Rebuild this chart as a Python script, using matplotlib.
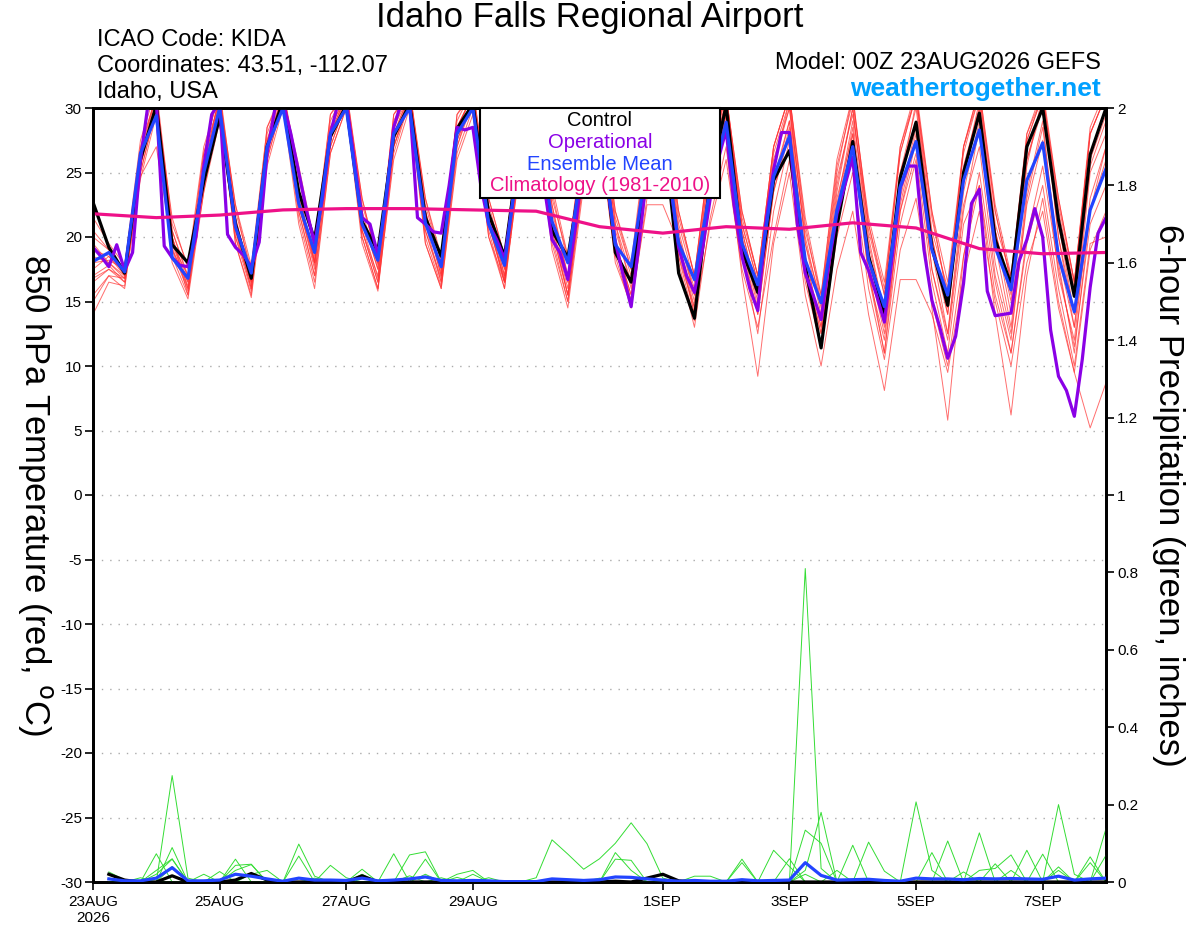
import numpy as np
import matplotlib
matplotlib.use('Agg')
import matplotlib.pyplot as plt
from matplotlib.patches import Rectangle
from matplotlib.ticker import FormatStrFormatter

plt.rcParams['font.family'] = ['Liberation Sans', 'DejaVu Sans']
plt.rcParams['axes.unicode_minus'] = False

# ---------------- data ----------------
hours6 = np.arange(0, 385, 6)      # temperature, 6-hourly
hours3 = np.arange(0, 385, 3)      # operational, 3-hourly
precip_hours = np.arange(6, 385, 6)

tick_days = [0, 2, 4, 6, 9, 11, 13, 15]
tick_labels = ['23AUG\n2026', '25AUG', '27AUG', '29AUG', '1SEP', '3SEP', '5SEP', '7SEP']

control_t = [22.7, 19.2, 17.2, 26.0, 30.2, 19.4, 18.0, 24.3,
             29.3, 21.0, 16.8, 27.0, 30.5, 23.5, 19.8, 27.8,
             30.2, 21.2, 18.9, 27.8, 30.3, 21.5, 18.5, 28.4,
             30.3, 21.8, 18.5, 27.5, 30.0, 20.5, 18.4, 26.0,
             29.5, 18.8, 16.5, 25.0, 29.0, 17.2, 13.7, 24.4,
             30.2, 19.0, 15.7, 24.4, 26.7, 17.7, 11.4, 20.8,
             27.4, 18.5, 14.1, 24.6, 28.9, 19.2, 14.7, 25.0,
             29.6, 19.8, 16.3, 27.0, 30.0, 21.3, 15.4, 26.4,
             30.0]

mean_t = [18.1, 18.8, 17.3, 26.5, 29.4, 18.4, 16.8, 25.0,
          30.0, 20.8, 17.2, 27.0, 30.0, 22.6, 18.8, 28.0,
          30.0, 21.0, 18.2, 28.0, 30.0, 21.1, 17.7, 28.0,
          30.0, 21.0, 17.8, 27.5, 29.8, 21.2, 18.0, 26.5,
          29.0, 19.4, 17.7, 25.8, 28.5, 19.5, 16.7, 23.8,
          28.9, 19.5, 16.3, 24.7, 27.8, 18.2, 14.9, 22.1,
          27.0, 18.2, 14.6, 23.9, 27.4, 19.0, 15.5, 24.4,
          28.3, 19.2, 15.9, 24.4, 27.3, 18.5, 14.2, 22.1,
          25.3]

oper_t = [19.2, 18.5, 17.7, 19.4, 17.4, 18.8, 26.0, 30.5,
          30.5, 19.3, 18.4, 17.8, 17.7, 20.0, 25.5, 29.5,
          30.5, 20.2, 19.2, 18.6, 17.7, 19.6, 26.5, 30.0,
          30.5, 28.0, 25.0, 22.0, 19.5, 23.0, 28.0, 30.5,
          30.5, 26.0, 21.5, 21.0, 18.6, 22.5, 28.5, 30.5,
          30.5, 21.5, 21.0, 20.4, 20.3, 24.0, 28.5, 28.3,
          28.5, 24.0, 21.0, 19.8, 18.3, 22.5, 27.5, 29.5,
          29.5, 24.0, 19.8, 18.8, 16.7, 21.0, 26.0, 28.5,
          29.0, 24.0, 19.6, 17.0, 14.6, 19.5, 25.0, 27.5,
          29.0, 24.0, 19.2, 17.0, 15.7, 19.0, 23.0, 26.0,
          28.3, 22.5, 18.5, 16.0, 14.3, 21.0, 25.2, 28.1,
          28.1, 21.0, 17.2, 15.5, 13.6, 18.0, 21.8, 24.0,
          26.2, 18.8, 17.4, 15.5, 13.4, 18.5, 23.8, 25.5,
          25.5, 19.0, 15.1, 13.0, 10.6, 12.3, 16.4, 22.6,
          23.7, 15.8, 13.9, 14.0, 14.1, 18.1, 19.8, 22.2,
          20.0, 12.8, 9.2, 8.1, 6.1, 10.5, 16.1, 20.3,
          21.5]

clim_days = np.arange(0, 17)
clim_t = [21.8, 21.5, 21.7, 22.1, 22.2, 22.2, 22.1, 22.0, 20.8,
          20.3, 20.8, 20.6, 21.1, 20.7, 19.1, 18.7, 18.8]

member_1 = [17.5, 18.5, 17.0, 26.5, 31.0, 20.0, 16.5, 25.5, 31.0, 21.5, 16.5, 27.5,
            31.5, 23.5, 18.0, 28.5, 31.0, 21.5, 17.5, 28.5, 31.5, 22.0, 17.5, 28.5,
            31.0, 22.0, 17.5, 28.0, 30.5, 22.0, 17.0, 27.0, 30.0, 20.5, 16.5, 26.0,
            30.5, 20.0, 16.0, 26.0, 31.0, 21.0, 16.5, 26.5, 30.5, 19.5, 15.0, 24.5,
            29.5, 21.0, 16.0, 26.5, 31.0, 20.5, 16.0, 26.5, 31.0, 21.0, 17.0, 27.5,
            31.0, 22.0, 16.0, 28.0, 31.0]
member_2 = [14.0, 16.5, 16.2, 24.5, 29.5, 18.0, 15.2, 23.5, 30.0, 19.5, 15.5, 26.0,
            30.5, 22.0, 17.0, 27.0, 30.5, 20.0, 16.0, 27.0, 30.5, 20.0, 16.2, 27.5,
            30.5, 20.5, 16.0, 26.5, 29.5, 20.5, 15.5, 25.5, 29.0, 19.5, 15.5, 25.0,
            29.5, 18.5, 14.5, 24.0, 29.5, 19.0, 14.0, 23.5, 28.5, 17.5, 12.5, 21.0,
            27.0, 17.0, 12.0, 22.0, 27.5, 17.5, 12.5, 22.5, 27.0, 17.0, 12.0, 23.0,
            28.5, 18.5, 13.0, 22.0, 27.0]
member_3 = [20.5, 19.0, 17.5, 27.0, 31.0, 19.5, 17.0, 26.5, 31.5, 22.0, 17.5, 28.0,
            31.5, 24.5, 19.0, 29.0, 31.5, 22.5, 18.5, 29.0, 31.5, 22.5, 18.0, 29.0,
            31.5, 23.0, 18.5, 28.5, 31.0, 23.0, 18.5, 27.5, 31.0, 21.5, 17.5, 27.0,
            31.0, 21.5, 17.0, 26.5, 31.0, 21.5, 17.0, 27.0, 31.0, 20.5, 15.5, 25.5,
            30.5, 21.5, 16.5, 27.0, 31.0, 22.0, 16.5, 27.0, 31.0, 22.0, 16.5, 28.0,
            31.0, 23.0, 16.5, 28.0, 31.0]
member_4 = [15.5, 17.0, 16.8, 24.7, 27.0, 19.2, 16.0, 24.0, 29.5, 20.5, 16.0, 27.0,
            30.5, 22.5, 17.8, 28.0, 30.5, 21.0, 16.8, 27.5, 31.0, 21.5, 17.0, 28.0,
            30.5, 21.0, 16.8, 27.0, 30.0, 21.5, 16.5, 26.0, 29.5, 19.0, 15.0, 24.0,
            29.0, 19.5, 15.0, 24.5, 30.0, 20.0, 15.0, 24.5, 29.0, 18.5, 13.0, 23.0,
            28.0, 18.5, 14.5, 25.0, 29.0, 19.0, 14.0, 25.0, 30.0, 20.5, 15.5, 26.0,
            30.5, 20.0, 14.0, 25.5, 29.0]
member_5 = [18.5, 18.0, 17.0, 26.0, 30.5, 21.5, 17.5, 26.5, 30.5, 22.5, 17.0, 28.5,
            31.0, 25.5, 19.5, 29.5, 31.0, 23.0, 18.0, 29.5, 31.0, 23.0, 18.0, 29.5,
            31.0, 22.5, 18.0, 29.0, 31.0, 23.5, 18.0, 28.0, 31.0, 22.0, 17.5, 27.5,
            31.0, 22.0, 17.0, 27.0, 31.0, 22.0, 17.0, 27.0, 31.0, 21.0, 15.0, 25.0,
            31.0, 20.5, 15.5, 26.5, 31.0, 21.5, 15.5, 27.0, 31.5, 22.0, 16.5, 27.5,
            31.0, 22.5, 16.5, 28.0, 31.0]
member_6 = [16.5, 17.5, 16.5, 25.0, 30.0, 18.5, 15.5, 24.5, 30.0, 19.5, 15.3, 25.5,
            30.0, 21.0, 16.0, 26.5, 30.0, 20.0, 16.0, 26.0, 30.0, 19.5, 16.0, 26.0,
            29.5, 20.0, 16.5, 25.5, 29.0, 19.5, 15.0, 24.5, 28.5, 18.5, 14.5, 23.0,
            28.0, 18.0, 13.0, 21.5, 27.0, 17.0, 9.2, 19.5, 25.0, 15.5, 10.0, 17.5,
            22.0, 14.0, 8.1, 16.7, 16.7, 14.0, 9.5, 17.0, 22.0, 15.0, 10.0, 18.0,
            22.0, 14.5, 9.5, 5.2, 8.7]
member_7 = [19.0, 18.5, 17.2, 26.0, 30.5, 19.0, 16.5, 25.0, 30.5, 21.0, 17.0, 27.0,
            31.0, 23.0, 18.5, 28.0, 31.0, 21.0, 18.0, 28.0, 31.0, 21.5, 17.0, 28.5,
            31.0, 21.5, 17.0, 27.5, 30.5, 21.0, 16.0, 26.5, 30.0, 19.5, 15.5, 25.5,
            30.0, 20.0, 15.5, 25.5, 30.5, 20.5, 15.5, 25.5, 30.0, 18.0, 12.5, 22.0,
            28.5, 17.5, 11.0, 21.0, 26.0, 14.5, 5.8, 18.5, 25.0, 16.5, 11.0, 20.0,
            25.5, 17.5, 11.5, 21.0, 24.0]
member_8 = [17.0, 17.8, 16.5, 25.5, 30.5, 20.0, 16.0, 24.5, 30.0, 20.0, 16.5, 26.5,
            30.5, 22.5, 18.0, 27.5, 30.5, 20.5, 17.0, 27.5, 30.5, 20.5, 16.5, 27.0,
            30.5, 21.0, 16.5, 27.0, 30.0, 21.0, 15.5, 25.5, 29.5, 19.0, 15.0, 25.0,
            29.5, 19.5, 14.5, 24.0, 29.5, 19.5, 14.0, 23.5, 28.0, 18.0, 11.5, 21.5,
            27.5, 18.0, 12.5, 22.0, 26.5, 16.5, 11.0, 21.0, 24.0, 14.0, 6.2, 17.0,
            23.0, 15.0, 9.5, 19.0, 22.0]
member_9 = [21.5, 19.5, 17.8, 27.5, 31.5, 21.0, 17.8, 27.0, 31.0, 22.5, 17.8, 28.5,
            31.5, 25.0, 19.0, 29.5, 31.5, 23.0, 18.0, 29.5, 31.5, 23.0, 18.5, 29.5,
            31.5, 23.0, 18.5, 29.0, 31.0, 24.0, 18.5, 28.0, 31.0, 22.0, 18.0, 28.0,
            31.0, 22.0, 17.0, 27.0, 31.0, 22.0, 17.0, 27.0, 31.0, 21.5, 15.5, 26.0,
            31.0, 21.0, 15.5, 27.0, 31.5, 22.0, 15.0, 27.0, 31.5, 22.5, 17.0, 28.0,
            31.5, 23.0, 16.5, 28.5, 31.5]
member_10 = [15.0, 17.0, 16.0, 25.0, 30.0, 19.0, 15.8, 23.5, 29.0, 20.5, 16.0, 26.0,
             30.5, 21.5, 16.5, 26.5, 30.0, 19.5, 15.8, 26.5, 30.5, 19.5, 16.0, 26.5,
             30.0, 20.0, 16.0, 26.0, 29.5, 19.0, 14.5, 24.0, 28.0, 18.0, 14.7, 22.5,
             22.5, 19.5, 14.0, 21.0, 26.0, 17.5, 13.0, 20.0, 26.0, 16.5, 11.5, 20.0,
             25.0, 16.0, 10.5, 19.0, 23.0, 15.0, 10.0, 18.5, 24.0, 15.5, 11.0, 19.5,
             24.0, 16.0, 10.0, 19.5, 20.0]
member_11 = [18.0, 18.2, 17.5, 26.8, 31.0, 20.5, 17.0, 25.5, 31.0, 21.5, 16.8, 27.5,
             31.0, 23.5, 18.0, 28.0, 31.0, 21.5, 17.5, 28.5, 31.0, 22.0, 17.5, 28.5,
             31.0, 22.0, 17.5, 28.0, 30.5, 22.5, 17.0, 27.0, 30.5, 21.0, 17.0, 26.5,
             30.5, 21.0, 16.5, 26.0, 30.5, 21.0, 16.5, 26.0, 30.0, 20.0, 14.5, 24.0,
             30.0, 20.0, 14.0, 25.0, 30.0, 20.0, 14.5, 25.5, 30.0, 20.5, 15.0, 26.0,
             30.0, 21.0, 14.0, 26.0, 29.5]
member_12 = [19.5, 18.0, 16.8, 25.8, 30.5, 19.5, 16.2, 24.0, 30.5, 21.0, 16.2, 26.5,
             31.0, 22.5, 17.5, 27.5, 31.0, 20.5, 16.5, 27.0, 30.5, 21.0, 16.5, 27.0,
             31.0, 21.5, 16.5, 27.0, 30.5, 20.5, 15.5, 25.0, 29.5, 20.0, 15.0, 24.5,
             30.0, 19.0, 14.0, 23.5, 29.5, 20.0, 14.5, 24.0, 29.0, 18.5, 13.0, 22.5,
             29.0, 19.0, 13.0, 23.0, 28.5, 19.0, 12.5, 23.5, 29.0, 19.5, 13.0, 23.5,
             29.0, 18.0, 11.0, 22.0, 26.0]
member_13 = [16.8, 17.5, 16.8, 25.5, 30.5, 20.0, 15.5, 24.5, 30.5, 20.0, 15.8, 26.5,
             31.0, 22.0, 17.0, 27.0, 30.5, 20.5, 16.5, 27.0, 31.0, 20.5, 16.8, 27.5,
             30.5, 21.0, 16.5, 26.5, 30.0, 20.0, 15.0, 25.0, 29.5, 19.5, 15.0, 24.5,
             29.5, 18.5, 13.5, 23.0, 29.0, 19.0, 12.5, 22.0, 27.5, 17.0, 11.5, 21.5,
             28.0, 17.0, 11.0, 22.5, 28.0, 17.5, 12.0, 22.0, 28.5, 18.0, 12.5, 22.5,
             27.5, 17.0, 12.0, 23.0, 27.0]
member_14 = [20.0, 19.0, 17.0, 26.0, 31.0, 20.5, 16.8, 25.0, 31.0, 21.0, 16.5, 27.0,
             31.0, 23.0, 18.2, 28.5, 31.0, 22.0, 17.8, 28.0, 31.0, 22.0, 17.2, 28.5,
             31.0, 22.0, 17.0, 27.5, 30.5, 22.5, 16.5, 26.5, 30.5, 21.0, 16.0, 26.5,
             30.5, 20.5, 15.5, 25.0, 30.5, 20.5, 15.5, 25.5, 30.5, 19.5, 14.0, 23.5,
             30.0, 19.5, 14.0, 24.0, 30.5, 20.0, 14.0, 25.0, 30.5, 20.5, 14.0, 25.5,
             31.0, 20.0, 13.0, 25.0, 28.0]
members_t = [member_1, member_2, member_3, member_4, member_5, member_6, member_7,
             member_8, member_9, member_10, member_11, member_12, member_13, member_14]

# 6-hour precipitation (inches), hours 6..384
precip_1 = [0.026, 0.005, 0, 0, 0.275, 0.01, 0, 0,
            0, 0, 0, 0, 0, 0, 0, 0,
            0.033, 0, 0, 0, 0, 0.011, 0, 0,
            0, 0, 0, 0, 0, 0, 0, 0.01,
            0, 0, 0, 0.005, 0, 0, 0, 0,
            0, 0, 0, 0.06, 0, 0, 0, 0,
            0, 0, 0, 0.207, 0.03, 0, 0, 0,
            0, 0, 0, 0, 0.2, 0.02, 0, 0]
precip_2 = [0.01, 0, 0, 0.073, 0, 0, 0, 0,
            0.059, 0, 0, 0, 0, 0.01, 0, 0,
            0.02, 0, 0, 0, 0, 0, 0.02, 0.03,
            0, 0, 0, 0, 0, 0, 0, 0,
            0.076, 0.03, 0, 0, 0, 0, 0, 0,
            0, 0, 0, 0, 0.81, 0.035, 0, 0,
            0, 0, 0, 0, 0.076, 0, 0, 0,
            0, 0, 0.082, 0, 0, 0, 0.05, 0]
precip_3 = [0, 0, 0.011, 0, 0.089, 0, 0, 0,
            0.043, 0.046, 0, 0, 0, 0, 0, 0,
            0, 0, 0, 0.016, 0, 0, 0.012, 0,
            0.011, 0, 0, 0, 0, 0, 0, 0,
            0.059, 0.056, 0, 0, 0, 0, 0, 0,
            0, 0, 0, 0, 0.134, 0.10, 0, 0,
            0, 0, 0, 0, 0, 0.106, 0, 0,
            0, 0.03, 0, 0.072, 0, 0, 0, 0]
precip_4 = [0, 0, 0, 0.03, 0.06, 0, 0, 0,
            0.03, 0.045, 0, 0, 0, 0, 0, 0,
            0, 0, 0.073, 0, 0, 0, 0, 0.02,
            0, 0, 0, 0, 0, 0, 0, 0,
            0, 0, 0, 0, 0, 0.015, 0.015, 0,
            0, 0, 0, 0, 0.03, 0.18, 0, 0,
            0, 0, 0, 0, 0, 0, 0.026, 0,
            0, 0, 0, 0, 0.03, 0, 0.065, 0]
precip_5 = [0, 0, 0, 0.02, 0.059, 0, 0, 0,
            0, 0.02, 0.03, 0, 0, 0, 0, 0,
            0, 0, 0, 0.07, 0.078, 0, 0, 0,
            0, 0, 0, 0, 0, 0, 0, 0,
            0, 0, 0, 0, 0, 0, 0, 0,
            0.059, 0, 0, 0, 0.02, 0, 0.03, 0,
            0, 0, 0, 0, 0, 0, 0, 0.127,
            0, 0, 0, 0, 0, 0, 0, 0.138]
precip_6 = [0, 0, 0, 0, 0.04, 0, 0.02, 0,
            0, 0, 0, 0, 0.098, 0.015, 0, 0,
            0, 0, 0, 0, 0.059, 0, 0, 0,
            0, 0, 0, 0, 0, 0, 0, 0,
            0, 0, 0, 0, 0, 0, 0, 0,
            0.05, 0, 0, 0, 0, 0, 0, 0.095,
            0, 0, 0, 0, 0, 0, 0, 0.03,
            0.035, 0.07, 0, 0, 0, 0, 0, 0.069]
precip_7 = [0, 0, 0, 0, 0, 0, 0, 0.027,
            0, 0, 0, 0, 0.067, 0, 0, 0,
            0, 0, 0, 0, 0.02, 0, 0, 0,
            0, 0, 0, 0.011, 0.109, 0.072, 0.033, 0.06,
            0.1, 0.153, 0.099, 0.01, 0, 0, 0, 0,
            0, 0, 0, 0, 0, 0, 0, 0,
            0.103, 0.028, 0, 0, 0, 0, 0, 0,
            0, 0, 0, 0, 0, 0, 0, 0]
precip_8 = [0, 0, 0, 0, 0, 0, 0, 0,
            0, 0, 0, 0, 0, 0, 0.043, 0.011,
            0, 0, 0, 0, 0, 0, 0, 0,
            0, 0, 0, 0, 0, 0, 0, 0,
            0, 0, 0, 0, 0, 0, 0, 0,
            0, 0, 0.082, 0.04, 0, 0, 0, 0,
            0, 0, 0, 0, 0, 0, 0, 0,
            0.047, 0, 0, 0, 0.039, 0, 0, 0]
members_p = [precip_1, precip_2, precip_3, precip_4, precip_5, precip_6, precip_7, precip_8]

control_p = [0.02, 0.005, 0, 0, 0.016, 0, 0, 0,
             0.005, 0.022, 0.005, 0, 0, 0, 0, 0,
             0.016, 0, 0, 0, 0, 0, 0, 0,
             0, 0, 0, 0, 0, 0, 0, 0,
             0.002, 0, 0.01, 0.02, 0.003, 0, 0, 0,
             0, 0, 0, 0, 0, 0, 0, 0,
             0, 0, 0, 0, 0, 0, 0, 0,
             0, 0, 0, 0, 0, 0, 0, 0]
mean_p = [0.008, 0.003, 0.003, 0.01, 0.037, 0.003, 0.003, 0.005,
          0.02, 0.015, 0.008, 0.002, 0.01, 0.005, 0.005, 0.004,
          0.01, 0.003, 0.005, 0.008, 0.013, 0.004, 0.003, 0.004,
          0.003, 0.001, 0.001, 0.001, 0.008, 0.006, 0.004, 0.006,
          0.013, 0.012, 0.008, 0.005, 0.002, 0.004, 0.002, 0.002,
          0.006, 0.003, 0.004, 0.005, 0.05, 0.017, 0.005, 0.006,
          0.007, 0.004, 0.002, 0.01, 0.008, 0.008, 0.006, 0.009,
          0.008, 0.009, 0.008, 0.007, 0.015, 0.005, 0.008, 0.01]

# ---------------- colours ----------------
C_MEMBER = '#ff3030'
C_PRECIP = '#33dd33'
C_CONTROL = '#000000'
C_OPER = '#8a00e6'
C_MEAN = '#2244ff'
C_CLIM = '#ee1188'
C_SITE = '#00a0ff'

# ---------------- figure ----------------
W, H = 1200, 927
fig = plt.figure(figsize=(W / 100, H / 100), dpi=100)
ax = fig.add_axes([93 / W, 1 - 882 / H, (1106 - 93) / W, (882 - 108) / H])
ax2 = ax.twinx()

d6 = hours6 / 24.0
d3 = hours3 / 24.0
dp = precip_hours / 24.0

for m in members_t:
    ax.plot(d6, m, color=C_MEMBER, lw=0.7, alpha=0.7, zorder=2)
ax.plot(d6, control_t, color=C_CONTROL, lw=2.3, zorder=3)
ax.plot(d3, oper_t, color=C_OPER, lw=2.3, zorder=4)
ax.plot(d6, mean_t, color=C_MEAN, lw=2.3, zorder=5)
ax.plot(clim_days, clim_t, color=C_CLIM, lw=2.3, zorder=6)

for p in members_p:
    ax2.plot(dp, p, color=C_PRECIP, lw=0.7, zorder=2)
ax2.plot(dp, control_p, color=C_CONTROL, lw=2.3, zorder=3)
ax2.plot(dp, mean_p, color=C_MEAN, lw=2.3, zorder=4)

ax.set_xlim(0, 16)
ax.set_ylim(-30, 30)
ax2.set_ylim(0, 2)

ax.set_yticks(np.arange(-30, 31, 5))
ax2.set_yticks(np.arange(0, 2.01, 0.2))
ax2.yaxis.set_major_formatter(FormatStrFormatter('%g'))
ax.set_xticks(tick_days)
ax.set_xticklabels(tick_labels)

for gy in np.arange(-25, 30, 5):
    ax.axhline(gy, color='#aaaaaa', lw=1.0, ls=(0, (1, 5)), zorder=1)

for a in (ax, ax2):
    for s in a.spines.values():
        s.set_linewidth(2.0)
        s.set_color('black')
ax.tick_params(axis='both', direction='out', length=6, width=1.2, labelsize=11, pad=2)
ax2.tick_params(axis='y', direction='out', length=6, width=1.2, labelsize=11, pad=2)
ax.tick_params(axis='x', pad=3)

# axis labels
fig.text(35 / W, 1 - 495 / H, '850 hPa Temperature (red, $^{\\rm o}$C)', rotation=270,
         ha='center', va='center', fontsize=25)
fig.text(1168 / W, 1 - 495 / H, '6-hour Precipitation (green, inches)', rotation=270,
         ha='center', va='center', fontsize=25)

# header texts
fig.text(590 / W, 1 - 18 / H, 'Idaho Falls Regional Airport', ha='center', va='center', fontsize=25)
fig.text(97 / W, 1 - 40 / H, 'ICAO Code: KIDA', ha='left', va='center', fontsize=17)
fig.text(97 / W, 1 - 66 / H, 'Coordinates: 43.51, -112.07', ha='left', va='center', fontsize=17)
fig.text(97 / W, 1 - 92 / H, 'Idaho, USA', ha='left', va='center', fontsize=17)
fig.text(1101 / W, 1 - 63 / H, 'Model: 00Z 23AUG2026 GEFS', ha='right', va='center', fontsize=17)
fig.text(1101 / W, 1 - 89 / H, 'weathertogether.net', ha='right', va='center', fontsize=19,
         fontweight='bold', color=C_SITE)

# legend box
fig.add_artist(Rectangle((480 / W, 1 - 198 / H), 240 / W, 90 / H, transform=fig.transFigure,
                         facecolor='white', edgecolor='black', lw=1.5, zorder=10))
leg_items = [('Control', C_CONTROL), ('Operational', C_OPER),
             ('Ensemble Mean', C_MEAN), ('Climatology (1981-2010)', C_CLIM)]
for k, (txt, col) in enumerate(leg_items):
    fig.text(600 / W, 1 - (121 + 21.5 * k) / H, txt, color=col, ha='center', va='center',
             fontsize=14.5, zorder=11)

fig.savefig('out.png', dpi=100)
